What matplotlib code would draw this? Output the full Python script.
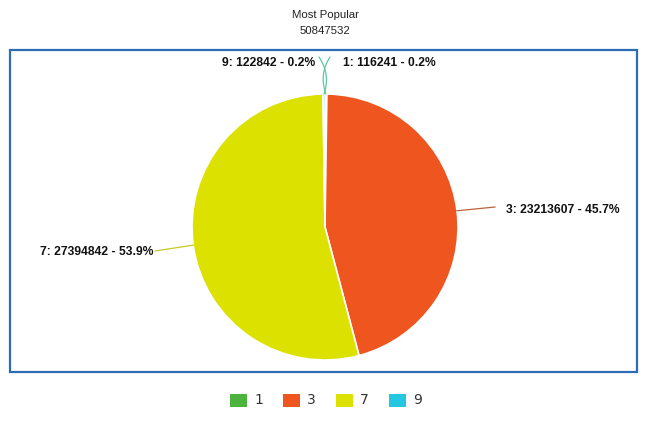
import matplotlib
matplotlib.use("Agg")
import matplotlib.pyplot as plt
from matplotlib.patches import Rectangle
import numpy as np

categories = ["1", "3", "7", "9"]
values = [116241, 23213607, 27394842, 122842]
colors = ["#4cb43c", "#ef561f", "#dde100", "#25c6df"]
line_colors = ["#5cc8a0", "#b8643c", "#c8c828", "#5cc8a0"]
title = "Most Popular"
total = sum(values)

W, H = 650, 433
fig = plt.figure(figsize=(W / 100, H / 100), dpi=100)
ax = fig.add_axes([0, 0, 1, 1])

def py(y):
    return H - y

cx, cy, r = 325, py(227), 133
wedges, _ = ax.pie(values, colors=colors, startangle=90, counterclock=False,
                   center=(cx, cy), radius=r, frame=True,
                   wedgeprops=dict(edgecolor="white", linewidth=1.2))
ax.set_xlim(0, W)
ax.set_ylim(0, H)
ax.set_aspect("equal")
ax.axis("off")

# frame
ax.add_patch(Rectangle((10, py(372)), 627, 322, fill=False,
                       edgecolor="#2a6db5", linewidth=1.6))

# title
tfont = "Liberation Sans"
ax.text(W / 2, py(15), title, ha="center", va="center", fontsize=8.2,
        color="#222222", family=tfont)
ax.text(W / 2, py(31), str(total), ha="center", va="center", fontsize=8.2,
        color="#222222", family=tfont)

labels = [f"{c}: {v} - {v / total * 100:.1f}%" for c, v in zip(categories, values)]
lab_fs = 8.7

def edge_point(w):
    mid = np.deg2rad((w.theta1 + w.theta2) / 2)
    return cx + r * np.cos(mid), cy + r * np.sin(mid)

lab_kw = dict(va="center", fontsize=lab_fs, fontweight="bold", color="#111111",
              family=tfont)

# 3 (right)
ex, ey = edge_point(wedges[1])
ax.plot([ex, 495], [ey, py(207)], color=line_colors[1], lw=0.9)
ax.text(506, py(210), labels[1], ha="left", **lab_kw)
# 7 (left)
ex, ey = edge_point(wedges[2])
ax.plot([ex, 155], [ey, py(251)], color=line_colors[2], lw=0.9)
ax.text(154, py(252), labels[2], ha="right", **lab_kw)
# 1 (top right)
ex, ey = edge_point(wedges[0])
ax.annotate("", xy=(ex, ey), xytext=(330, py(57)),
            arrowprops=dict(arrowstyle="-", color=line_colors[0], lw=0.9,
                            connectionstyle="arc3,rad=0.25", shrinkA=0, shrinkB=0))
ax.text(343, py(63), labels[0], ha="left", **lab_kw)
# 9 (top left)
ex, ey = edge_point(wedges[3])
ax.annotate("", xy=(ex, ey), xytext=(319, py(57)),
            arrowprops=dict(arrowstyle="-", color=line_colors[3], lw=0.9,
                            connectionstyle="arc3,rad=-0.25", shrinkA=0, shrinkB=0))
ax.text(315, py(63), labels[3], ha="right", **lab_kw)

# legend
lx = [230, 283, 336, 389]
for x, c, lab in zip(lx, colors, categories):
    ax.add_patch(Rectangle((x, py(407)), 17, 13, facecolor=c, edgecolor="none"))
    ax.text(x + 24, py(400.5), lab, ha="left", va="center", fontsize=10, color="#333333")

fig.savefig("out.png", dpi=100)
